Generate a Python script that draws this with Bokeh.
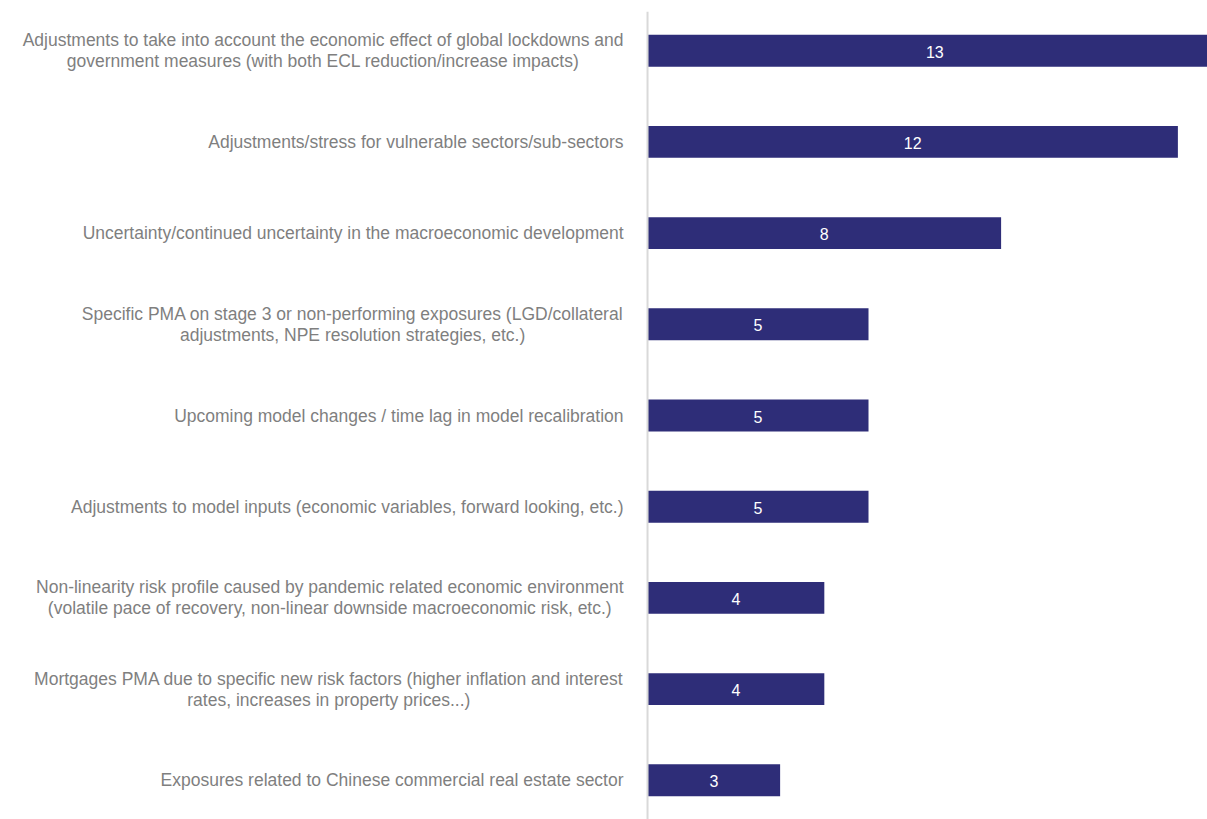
from bokeh.plotting import figure
from bokeh.models import Range1d, ColumnDataSource, Span
from bokeh.embed import file_html
from bokeh.resources import INLINE
from bokeh.core.properties import value

categories = [
    "Adjustments to take into account the economic effect of global lockdowns and\ngovernment measures (with both ECL reduction/increase impacts)",
    "Adjustments/stress for vulnerable sectors/sub-sectors",
    "Uncertainty/continued uncertainty in the macroeconomic development",
    "Specific PMA on stage 3 or non-performing exposures (LGD/collateral\nadjustments, NPE resolution strategies, etc.)",
    "Upcoming model changes / time lag in model recalibration",
    "Adjustments to model inputs (economic variables, forward looking, etc.)",
    "Non-linearity risk profile caused by pandemic related economic environment\n(volatile pace of recovery, non-linear downside macroeconomic risk, etc.)",
    "Mortgages PMA due to specific new risk factors (higher inflation and interest\nrates, increases in property prices...)",
    "Exposures related to Chinese commercial real estate sector",
]
counts = [13, 12, 8, 5, 5, 5, 4, 4, 3]

idx = list(range(len(categories)))
src = ColumnDataSource(dict(
    y=idx,
    v=counts,
    zero=[0] * len(counts),
    mid=[c / 2 for c in counts],
    lab=[str(c) for c in counts],
    cat=categories,
))

p = figure(width=1207, height=819, output_backend="svg", toolbar_location=None,
           x_range=Range1d(-14.64, 12.67), y_range=Range1d(8.43, -0.43),
           min_border_left=0, min_border_right=0, min_border_top=11, min_border_bottom=0,
           x_axis_location=None, y_axis_location=None)
p.outline_line_color = None
p.grid.visible = False
p.background_fill_color = "white"
p.border_fill_color = "white"

p.add_layout(Span(location=0, dimension="height", line_color="#D9D9D9", line_width=2))

p.hbar(y="y", left=0, right="v", height=0.35, source=src,
       fill_color="#2E2D78", line_color=None)
p.text(x="mid", y="y", text="lab", source=src, text_color="white",
       text_align="center", text_baseline="middle", text_font_size="16px",
       text_font=value("Liberation Sans"), y_offset=1)
p.text(x="zero", y="y", text="cat", source=src, text_color="#7F7F7F",
       anchor="center_right", text_align="center", x_offset=-24,
       text_font_size="17.5px", text_font=value("Liberation Sans"),
       text_line_height=1.05)

open("out.html", "w").write(file_html(p, INLINE))
